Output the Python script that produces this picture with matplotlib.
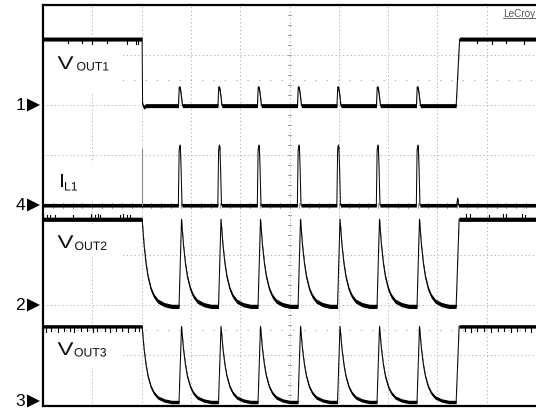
import numpy as np
import matplotlib
matplotlib.use("Agg")
import matplotlib.pyplot as plt
from matplotlib.patches import Rectangle, Polygon, PathPatch
from matplotlib.textpath import TextPath
from matplotlib.font_manager import FontProperties
from matplotlib.transforms import Affine2D, IdentityTransform

plt.rcParams["font.family"] = ["Liberation Sans", "DejaVu Sans"]

# ---- timing (horizontal divisions, 10 div across the screen) ----
t_off = 2.01                      # load switched off
t_on = 8.41                       # load switched back on
pulse_times = [2.779, 3.580, 4.381, 5.193, 5.994, 6.795, 7.606]

# ---- trace levels (vertical divisions on screen) ----
vout1_high, vout1_low, vout1_peak = 7.32, 5.99, 6.36
il1_base, il1_peak, il1_offspike, il1_onblip = 4.0, 5.20, 5.12, 4.14
vout2_high, vout2_low, vout2_peak = 3.72, 1.98, 3.72
vout3_high, vout3_low, vout3_peak = 1.58, 0.07, 1.58

# ---- pulse shapes: time offset (div) and fraction of pulse height ----
vout1_dt = [-0.032, -0.016, 0.000, 0.012, 0.030, 0.048]
vout1_fr = [0.0, 1.0, 0.95, 0.80, 0.45, 0.0]
il1_dt = [-0.034, -0.018, -0.004, 0.008, 0.022, 0.040]
il1_fr = [0.0, 0.92, 1.0, 0.95, 0.60, 0.0]
rise_dt = [-0.05, 0.0]
rise_fr = [0.0, 1.0]
decay_dt = [0.0, 0.04, 0.08, 0.12, 0.18, 0.24, 0.32, 0.45, 0.60]
decay_fr = [1.0, 0.70, 0.49, 0.34, 0.20, 0.12, 0.06, 0.02, 0.0]
vout23_delay = 0.03

# ---- small glitches riding on the flat levels (div positions, div heights) ----
vout1_glitch_t = [0.50, 0.79, 0.99, 1.30, 1.70, 1.88, 1.92, 8.80, 9.10, 9.40, 9.75]
vout1_glitch_h = [-0.04, -0.04, -0.05, -0.04, -0.05, -0.06, -0.05, -0.04, -0.05, -0.04, -0.05]
vout2_glitch_t = [0.08, 0.14, 0.24, 0.60, 0.97, 1.05, 1.12, 1.16, 1.56, 1.62, 1.70,
                  1.76, 8.57, 8.66, 9.05, 9.33, 9.40, 9.72, 9.78]
vout2_glitch_h = [0.05, 0.05, 0.04, 0.05, 0.06, 0.05, 0.06, 0.05, 0.05, 0.06, 0.05,
                  0.05, 0.06, 0.06, 0.05, 0.06, 0.06, 0.06, 0.05]
vout3_glitch_t = [0.06, 0.16, 0.30, 0.42, 0.55, 0.63, 0.78, 0.90, 1.02, 1.10, 1.25,
                  1.36, 1.48, 1.60, 1.72, 1.86, 1.95, 8.55, 8.68, 8.80, 8.95, 9.08,
                  9.22, 9.35, 9.50, 9.62, 9.77, 9.90]
vout3_glitch_h = [-0.07, -0.05, -0.07, -0.06, -0.05, -0.07, -0.06, -0.05, -0.07, -0.06,
                  -0.05, -0.07, -0.06, -0.05, -0.07, -0.06, -0.05, -0.06, -0.07, -0.05,
                  -0.06, -0.07, -0.05, -0.06, -0.07, -0.05, -0.06, -0.07]

# ---- channel markers ----
marker_names = ["1", "4", "2", "3"]
marker_py = [106, 206, 306, 402]

W, H = 536, 410


def dx(px):
    return (px - 43) / 49.3


def dy(py):
    return (406.5 - py) / 50.06


def build_vout1():
    t = [0.0, t_off, t_off + 0.010, t_off + 0.030, t_off + 0.08]
    v = [vout1_high, vout1_high, vout1_low + 0.03, vout1_low - 0.03, vout1_low]
    for p in pulse_times:
        for d, f in zip(vout1_dt, vout1_fr):
            t.append(p + d)
            v.append(vout1_low + (vout1_peak - vout1_low) * f)
    t += [t_on - 0.03, t_on + 0.04, 10.0]
    v += [vout1_low, vout1_high, vout1_high]
    return np.array(t), np.array(v)


def build_il1():
    t = [0.0]
    v = [il1_base]
    for p in pulse_times:
        for d, f in zip(il1_dt, il1_fr):
            t.append(p + d)
            v.append(il1_base + (il1_peak - il1_base) * f)
    t += [t_on - 0.02, t_on, t_on + 0.02, 10.0]
    v += [il1_base, il1_onblip, il1_base, il1_base]
    return np.array(t), np.array(v)


def build_vout(high, low, peak):
    t = [0.0]
    v = [high]
    for d, f in zip(decay_dt, decay_fr):
        t.append(t_off + d)
        v.append(low + (high - low) * f)
    for p in pulse_times:
        c = p + vout23_delay
        for d, f in zip(rise_dt, rise_fr):
            t.append(c + d)
            v.append(low + (peak - low) * f)
        for d, f in zip(decay_dt[1:], decay_fr[1:]):
            t.append(c + d)
            v.append(low + (peak - low) * f)
    t += [t_on - 0.03, t_on + 0.03, 10.0]
    v += [low, high, high]
    return np.array(t), np.array(v)


fig = plt.figure(figsize=(W / 100, H / 100), dpi=100)
ax = fig.add_axes([43 / W, (H - 406.5) / H, (W - 43) / W, 400.5 / H])
ax.set_xlim(0, 10)
ax.set_ylim(0, 8)
ax.set_xticks([])
ax.set_yticks([])
for s in ("left", "top", "bottom"):
    ax.spines[s].set_linewidth(1.6)
    ax.spines[s].set_color("black")
ax.spines["right"].set_visible(False)

grid_kw = dict(color="#b4b4b4", lw=0.7, ls=(0, (1.3, 2.6)), zorder=1)
for gx in range(1, 10):
    ax.plot([gx, gx], [0, 8], **grid_kw)
for gy in range(1, 8):
    ax.plot([0, 10], [gy, gy], **grid_kw)

# minor ticks on the centre cross
tick_kw = dict(color="#a0a0a0", lw=0.7, zorder=1)
for ty in np.arange(0.2, 8.0, 0.2):
    ax.plot([5 - 0.04, 5 + 0.04], [ty, ty], **tick_kw)
for tx in np.arange(0.2, 10.0, 0.2):
    ax.plot([tx, tx], [4 - 0.05, 4 + 0.05], **tick_kw)

# sparse reference dots
for ry in (6.5, 1.5):
    ax.plot([0, 10], [ry, ry], color="#b0b0b0", lw=0.8, ls=(0, (1.2, 9.0)), zorder=1)

# white panels behind the trace labels
for top, bot in [(45, 93), (164, 202), (225, 257), (333, 369)]:
    ax.add_patch(Rectangle((dx(44), dy(bot)), dx(121) - dx(44), dy(top) - dy(bot),
                           facecolor="white", edgecolor="none", zorder=1.5))

# traces: thin line plus a thin vertical noise band
traces = [
    (build_vout1(), 0.040),
    (build_il1(), 0.036),
    (build_vout(vout2_high, vout2_low, vout2_peak), 0.042),
    (build_vout(vout3_high, vout3_low, vout3_peak), 0.034),
]
for (t, v), h in traces:
    ax.fill_between(t, v - h, v + h, color="black", lw=0, zorder=3)
    ax.plot(t, v, color="black", lw=0.7, zorder=3)

# faint current spike at the switch-off instant
ax.plot([t_off, t_off], [il1_base, il1_offspike], color="#8a8a8a", lw=0.8, zorder=3)

# glitches on the flat levels
for base, gts, ghs, h in [(vout1_high, vout1_glitch_t, vout1_glitch_h, 0.040),
                          (vout2_high, vout2_glitch_t, vout2_glitch_h, 0.042),
                          (vout3_high, vout3_glitch_t, vout3_glitch_h, 0.034)]:
    for gt, gh in zip(gts, ghs):
        y0 = base + np.sign(gh) * h
        ax.plot([gt, gt], [y0, y0 + gh], color="black", lw=0.8, zorder=3)

# channel ground markers on the left
for name, py in zip(marker_names, marker_py):
    ax.text(dx(25), dy(py), name, fontsize=12.5, ha="right", va="center",
            color="black", clip_on=False)
    tri = Polygon([(dx(27), dy(py - 6.5)), (dx(27), dy(py + 6.5)), (dx(40), dy(py))],
                  closed=True, facecolor="black", edgecolor="none", clip_on=False)
    ax.add_patch(tri)


def glyph(s, px, py, size_px, stretch=1.0):
    """Draw text s with its baseline-left at pixel (px, py), optionally widened."""
    path = TextPath((0, 0), s, size=size_px, prop=FontProperties(family="Liberation Sans"))
    tr = Affine2D().scale(stretch, 1.0).translate(px, H - py) + IdentityTransform()
    fig.add_artist(PathPatch(path, transform=tr, facecolor="#111111",
                             edgecolor="none", zorder=5))


# trace labels: large main letter, smaller subscript
labels = [
    ("V", "OUT1", 57.5, 70, 76.5, 71.5),
    ("I", "L1", 59.5, 188, 64, 191.5),
    ("V", "OUT2", 57.5, 249, 74.5, 251),
    ("V", "OUT3", 57.5, 356, 74, 357.5),
]
for main, sub, mx, my, sx, sy in labels:
    glyph(main, mx, my, 18.5, 1.3 if main == "V" else 1.0)
    glyph(sub, sx, sy, 12.2)

# brand mark, top right
fig.text(503 / W, 1 - 17 / H, "LeCroy", fontsize=7.2, color="#555555",
         ha="left", va="baseline")
fig.add_artist(plt.Line2D([503 / W, 1.0], [1 - 19 / H, 1 - 19 / H],
                          color="#555555", lw=0.6))

fig.savefig("out.png", dpi=100)
